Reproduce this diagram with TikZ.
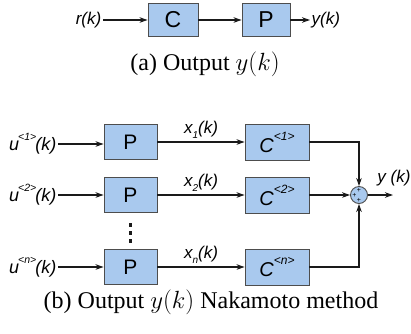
\documentclass[tikz,border=0pt]{standalone}
\usepackage{fontspec}
\setmainfont{Liberation Serif}
\setsansfont{Liberation Sans}
\usetikzlibrary{arrows.meta,positioning,calc}
\definecolor{boxfill}{HTML}{A9C9EE}
\definecolor{boxline}{HTML}{4D4D4D}
\definecolor{ink}{HTML}{1A1A1A}
\newcommand{\supidx}[1]{\kern-1pt\raisebox{0.55em}{\fontsize{10.5}{10.5}\selectfont #1}\kern-1pt}
\newcommand{\subidx}[1]{\raisebox{-0.35em}{\fontsize{10}{10}\selectfont #1}}
\newcommand{\csupidx}[1]{\raisebox{0.6em}{\fontsize{12}{12}\selectfont #1}}

\begin{document}
\begin{tikzpicture}[x=1pt, y=-1pt,
  blk/.style={draw=boxline, fill=boxfill, line width=0.9pt, inner sep=0pt, font=\sffamily\fontsize{21}{21}\selectfont},
  sig/.style={-{Stealth[length=8pt,width=5.5pt]}, draw=ink, line width=1.1pt},
  lbl/.style={font=\sffamily\itshape\fontsize{17}{17}\selectfont, inner sep=1.5pt},
  sumj/.style={circle, draw=boxline, fill=boxfill, line width=0.9pt, minimum size=17pt, inner sep=0pt},
  pls/.style={font=\sffamily\fontsize{7}{7}\selectfont, inner sep=0pt},
  captxt/.style={font=\fontsize{24}{24}\selectfont, inner sep=0pt},
]
\useasboundingbox (0,0) rectangle (411,333);

% (a) plain loop
\node[blk, minimum width=50pt, minimum height=33pt, font=\sffamily\fontsize{23}{23}\selectfont] (ctl) at (173,20) {C};
\node[blk, minimum width=48pt, minimum height=33pt, font=\sffamily\fontsize{23}{23}\selectfont] (plant) at (266,20) {P};
\node[lbl, anchor=east] (ref) at (103,20) {r(k)};
\node[lbl, anchor=west] (out) at (310,20) {y(k)};
\draw[sig] (ref) -- (ctl);
\draw[sig] (ctl) -- (plant);
\draw[sig] (plant) -- (out);
\node[captxt] (capa) at (205,64) {(a) Output $y(k)$};

% (b) Nakamoto
\node[blk, minimum width=53pt, minimum height=35pt] (p1) at (130.5,142) {P};
\node[blk, minimum width=53pt, minimum height=35pt] (p2) at (130.5,195) {P};
\node[blk, minimum width=53pt, minimum height=35pt] (pn) at (130.5,267) {P};
\node[blk, minimum width=64pt, minimum height=36pt, font=\sffamily\itshape\fontsize{20}{20}\selectfont] (c1) at (277,142) {C\csupidx{<1>}};
\node[blk, minimum width=64pt, minimum height=36pt, font=\sffamily\itshape\fontsize{20}{20}\selectfont] (c2) at (277,195) {C\csupidx{<2>}};
\node[blk, minimum width=64pt, minimum height=36pt, font=\sffamily\itshape\fontsize{20}{20}\selectfont] (cn) at (277,267) {C\csupidx{<n>}};
\node[lbl, anchor=east, font=\sffamily\itshape\fontsize{18}{18}\selectfont] (u1) at (58,144) {u\supidx{<1>}(k)};
\node[lbl, anchor=east, font=\sffamily\itshape\fontsize{18}{18}\selectfont] (u2) at (58,195) {u\supidx{<2>}(k)};
\node[lbl, anchor=east, font=\sffamily\itshape\fontsize{18}{18}\selectfont] (un) at (58,267) {u\supidx{<n>}(k)};
\foreach \d in {0,1,2}
  \fill[ink] (128.5,223+\d*8) rectangle ++(3.5,4);

\draw[sig] (u1.east) -- (u1.east -| p1.west);
\draw[sig] (u2) -- (p2);
\draw[sig] (un) -- (pn);
\draw[sig] (p1) -- node[lbl, above=1pt] {x\subidx{1}(k)} (c1);
\draw[sig] (p2) -- node[lbl, above=1pt] {x\subidx{2}(k)} (c2);
\draw[sig] (pn) -- node[lbl, above=1pt] {x\subidx{n}(k)} (cn);

\node[sumj] (sum) at (359,195) {};
\node[pls] (plt) at (359,190.5) {+};
\node[pls] (pll) at (354.5,195.5) {+};
\node[pls] (plb) at (359,200.5) {+};
\coordinate (yend) at (393,195);
\draw[sig] (c1.east) -| (sum.north);
\draw[sig] (c2) -- (sum);
\draw[sig] (cn.east) -| (sum.south);
\draw[sig] (sum) -- (yend);
\node[lbl] (ylab) at (394,178) {y (k)};

\node[captxt] (capb) at (211,302) {(b) Output $y(k)$ Nakamoto method};
\end{tikzpicture}
\end{document}
